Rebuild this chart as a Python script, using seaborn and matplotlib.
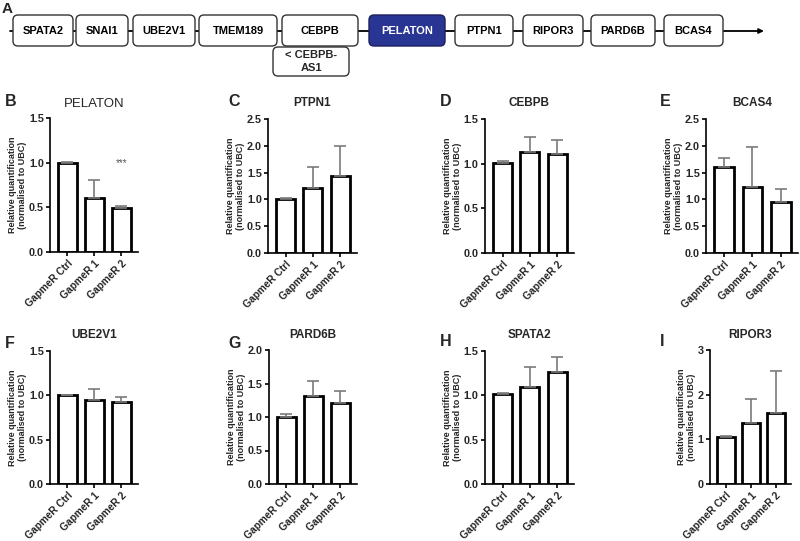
import matplotlib.pyplot as plt
import seaborn as sns
from matplotlib.patches import FancyBboxPatch

# gene order along the locus (panel A)
genes = ["SPATA2", "SNAI1", "UBE2V1", "TMEM189", "CEBPB", "PELATON",
         "PTPN1", "RIPOR3", "PARD6B", "BCAS4"]

groups = ["GapmeR Ctrl", "GapmeR 1", "GapmeR 2"]

# bar heights and upper error (SD) per gene
pelaton_mean = [1.0, 0.60, 0.495]
pelaton_err = [0.005, 0.205, 0.02]
ptpn1_mean = [1.0, 1.22, 1.43]
ptpn1_err = [0.03, 0.39, 0.56]
cebpb_mean = [1.01, 1.13, 1.105]
cebpb_err = [0.02, 0.17, 0.165]
bcas4_mean = [1.61, 1.235, 0.95]
bcas4_err = [0.16, 0.735, 0.25]
ube2v1_mean = [1.0, 0.946, 0.92]
ube2v1_err = [0.005, 0.13, 0.057]
pard6b_mean = [1.006, 1.32, 1.215]
pard6b_err = [0.035, 0.22, 0.175]
spata2_mean = [1.013, 1.095, 1.268]
spata2_err = [0.01, 0.225, 0.16]
ripor3_mean = [1.05, 1.375, 1.585]
ripor3_err = [0.035, 0.525, 0.955]

sns.set_style("ticks")
plt.rcParams["font.family"] = ["Liberation Sans", "DejaVu Sans"]

W, H = 800, 541
fig = plt.figure(figsize=(8, 5.41), dpi=100)


def px_axes(left, right, top, bottom):
    return fig.add_axes([left / W, 1 - bottom / H, (right - left) / W, (bottom - top) / H])


# ---- panel A: gene track ----
axA = fig.add_axes([0, 1 - 80 / H, 1, 80 / H])
axA.set_xlim(0, W)
axA.set_ylim(80, 0)
axA.axis("off")
axA.annotate("", xy=(764, 31), xytext=(10, 31),
             arrowprops=dict(arrowstyle="-|>", color="black", lw=1.3,
                             mutation_scale=7, shrinkA=0, shrinkB=0))
box_x = [(13, 73), (76, 128), (133, 195), (199, 277), (282, 358), (369, 445),
         (455, 513), (523, 583), (591, 655), (664, 723)]
for name, (x0, x1) in zip(genes, box_x):
    hl = name == "PELATON"
    axA.add_patch(FancyBboxPatch((x0, 15), x1 - x0, 31,
                                 boxstyle="round,pad=0,rounding_size=5",
                                 fc="#283593" if hl else "white",
                                 ec="#1a1f5e" if hl else "#333333", lw=1.0, zorder=3))
    axA.text((x0 + x1) / 2, 31, name, ha="center", va="center", fontsize=8,
             fontweight="bold", color="white" if hl else "black", zorder=4)
axA.add_patch(FancyBboxPatch((273, 47), 76, 29, boxstyle="round,pad=0,rounding_size=5",
                             fc="white", ec="#333333", lw=1.0, zorder=3))
axA.text(311, 61.5, "< CEBPB-\nAS1", ha="center", va="center", fontsize=8,
         fontweight="bold", linespacing=1.4, zorder=4)
fig.text(2 / W, 1 - 9 / H, "A", fontsize=11, fontweight="bold", va="center")

# ---- bar panels ----
panels = [
    ("B", "PELATON", pelaton_mean, pelaton_err, (50, 138, 118, 252), 1.5, 0.5),
    ("C", "PTPN1", ptpn1_mean, ptpn1_err, (268, 357, 119, 253), 2.5, 0.5),
    ("D", "CEBPB", cebpb_mean, cebpb_err, (485, 574, 119, 253), 1.5, 0.5),
    ("E", "BCAS4", bcas4_mean, bcas4_err, (706, 798, 119, 253), 2.5, 0.5),
    ("F", "UBE2V1", ube2v1_mean, ube2v1_err, (50, 138, 351, 484), 1.5, 0.5),
    ("G", "PARD6B", pard6b_mean, pard6b_err, (269, 357, 350, 484), 2.0, 0.5),
    ("H", "SPATA2", spata2_mean, spata2_err, (485, 574, 351, 484), 1.5, 0.5),
    ("I", "RIPOR3", ripor3_mean, ripor3_err, (710, 791, 350, 484), 3, 1),
]
letter_pos = {"B": (5, 101), "C": (228, 102), "D": (440, 101), "E": (660, 101),
              "F": (5, 343), "G": (228, 343), "H": (440, 342), "I": (660, 342)}

for letter, title, mean, err, box, ymax, step, in panels:
    ax = px_axes(*box)
    sns.barplot(x=groups, y=mean, ax=ax, color="white", saturation=1,
                edgecolor="black", linewidth=2, width=0.7, errorbar=None)
    ax.errorbar(range(3), mean, yerr=[[0, 0, 0], err], fmt="none",
                ecolor="#7a7a7a", elinewidth=1.2, capsize=4, capthick=1.2, zorder=1)
    ax.set_xlim(-0.64, 2.61)
    ax.set_ylim(0, ymax)
    ticks = [i * step for i in range(int(round(ymax / step)) + 1)]
    ax.set_yticks(ticks)
    if step >= 1:
        ax.set_yticklabels([f"{t:.0f}" for t in ticks])
    else:
        ax.set_yticklabels([f"{t:.1f}" for t in ticks])
    ax.set_xticks(range(3))
    ax.set_xticklabels(groups, rotation=45, ha="right", rotation_mode="anchor")
    for lab in ax.get_xticklabels():
        lab.set_fontweight("bold")
        lab.set_fontsize(7.3)
    for lab in ax.get_yticklabels():
        lab.set_fontweight("bold")
        lab.set_fontsize(7.8)
    ax.tick_params(axis="both", length=3, width=1.2, pad=1.5, color="black")
    for s in ("left", "bottom"):
        ax.spines[s].set_linewidth(1.2)
        ax.spines[s].set_color("black")
    sns.despine(ax=ax)
    ax.set_xlabel("")
    ax.set_ylabel("Relative quantification\n(normalised to UBC)", fontsize=6.5,
                  fontweight="bold", labelpad=1, linespacing=1.15)
    if title == "PELATON":
        ax.set_title(title, fontsize=9.5, pad=8)
        ax.text(2, 1.0, "***", ha="center", va="center", fontsize=7, color="#555555")
    else:
        ax.set_title(title, fontsize=8.5, fontweight="bold", pad=9)
    lx, ly = letter_pos[letter]
    fig.text(lx / W, 1 - ly / H, letter, fontsize=11.5, fontweight="bold", va="center")

fig.savefig("out.png", dpi=100)
